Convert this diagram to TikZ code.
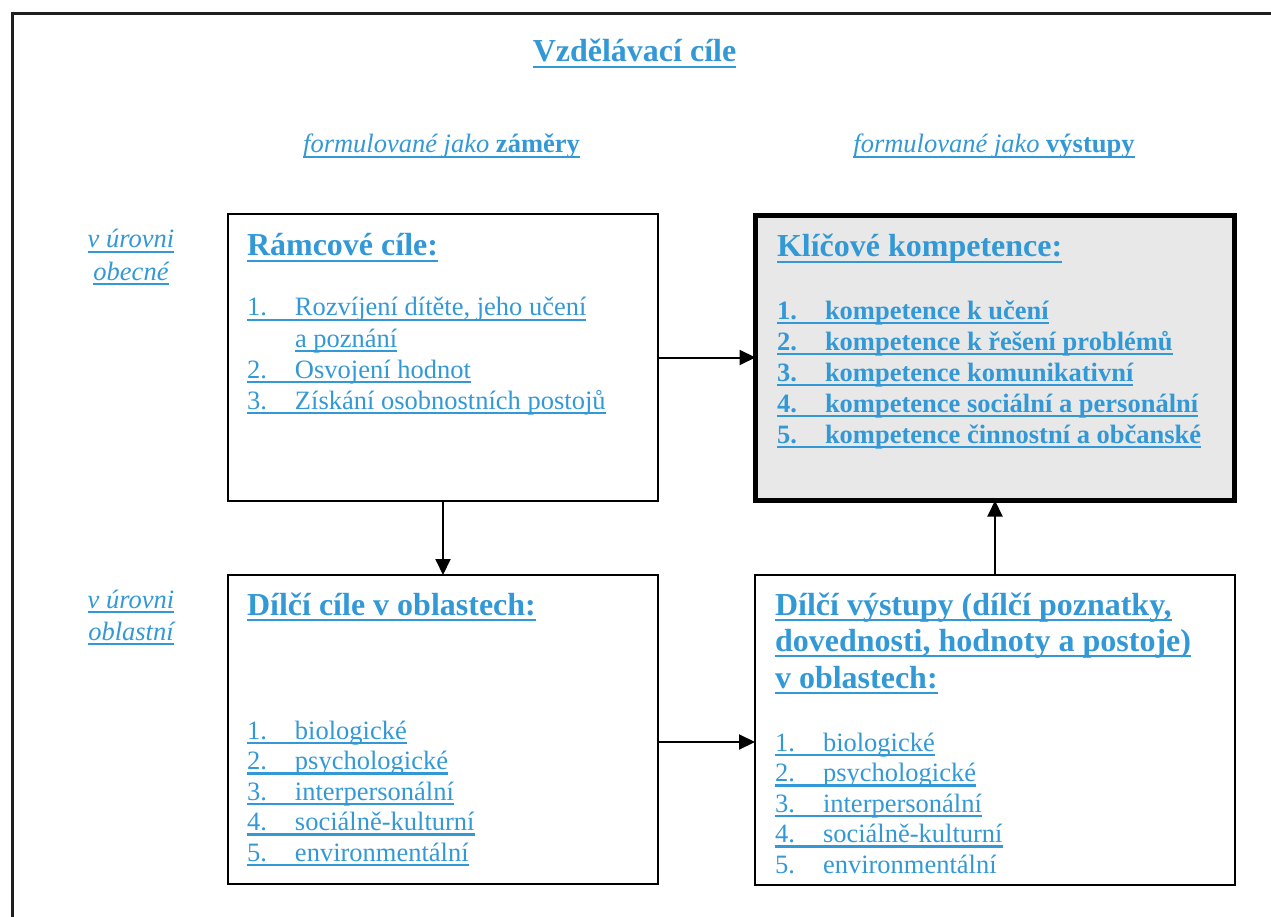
\documentclass[tikz,border=0pt]{standalone}
\usepackage{fontspec}
\setmainfont{Liberation Serif}
\usetikzlibrary{arrows.meta}
\definecolor{cblue}{RGB}{51,153,214}
\definecolor{boxgray}{RGB}{232,232,232}
\newcommand\myul[1]{\setbox0=\hbox{#1}\rlap{\rule[-0.19em]{\wd0}{0.08em}}\box0}
\newcommand\numit[2]{\myul{\makebox[48pt][l]{#1}#2}}
\newcommand\numnu[2]{\makebox[48pt][l]{#1}#2}
\newcommand\bodyf{\fontsize{26.5}{31}\selectfont}
\newcommand\headf{\fontsize{32}{37}\selectfont\bfseries}
\tikzset{
  txt/.style={inner sep=0pt, outer sep=0pt, anchor=base west, text=cblue, font=\bodyf},
  btxt/.style={txt, font=\bodyf\bfseries},
  hd/.style={txt, font=\headf},
  lbl/.style={txt, anchor=base, font=\bodyf\itshape},
  box/.style={draw=black, line width=2pt, inner sep=0pt, outer sep=0pt, anchor=north west},
  keybox/.style={box, line width=5pt, fill=boxgray},
  arr/.style={line width=2pt, -{Triangle[length=16pt,width=15pt]}}
}
\begin{document}
\begin{tikzpicture}[x=1pt,y=-1pt]
\useasboundingbox (0,0) rectangle (1271,917);
\fill[white] (0,0) rectangle (1271,917);
% outer frame
\draw[line width=2.6pt, black!88] (12.5,917) -- (12.5,13.5) -- (1271,13.5);

% title and column headers
\node[txt, anchor=base, font=\headf] (title) at (634.5,62) {\myul{Vzdělávací cíle}};
\node[txt, anchor=base] (colA) at (441.5,153) {\myul{\textit{formulované jako} \textbf{záměry}}};
\node[txt, anchor=base] (colB) at (994,153) {\myul{\textit{formulované jako} \textbf{výstupy}}};

% row labels
\node[lbl] (rowA1) at (131,248) {\myul{v úrovni}};
\node[lbl] (rowA2) at (131,280) {\myul{obecné}};
\node[lbl] (rowB1) at (131,608) {\myul{v úrovni}};
\node[lbl] (rowB2) at (131,640) {\myul{oblastní}};

% boxes
\node[box, minimum width=430, minimum height=287] (b1) at (228,214) {};
\node[keybox, minimum width=479, minimum height=285] (b2) at (755.5,215.5) {};
\node[box, minimum width=430, minimum height=309] (b3) at (228,575) {};
\node[box, minimum width=480, minimum height=310] (b4) at (755,575) {};

% box 1
\node[hd] (h1) at (247,256) {\myul{Rámcové cíle:}};
\node[txt] (i11) at (247,316) {\numit{1.}{Rozvíjení dítěte, jeho učení}};
\node[txt] (i11b) at (295,347) {\myul{a poznání}};
\node[txt] (i12) at (247,378) {\numit{2.}{Osvojení hodnot}};
\node[txt] (i13) at (247,409) {\numit{3.}{Získání osobnostních postojů}};

% box 2
\node[hd] (h2) at (777,257) {\myul{Klíčové kompetence:}};
\node[btxt] (i21) at (777,319) {\numit{1.}{kompetence k učení}};
\node[btxt] (i22) at (777,350) {\numit{2.}{kompetence k řešení problémů}};
\node[btxt] (i23) at (777,381) {\numit{3.}{kompetence komunikativní}};
\node[btxt] (i24) at (777,412) {\numit{4.}{kompetence sociální a personální}};
\node[btxt] (i25) at (777,443) {\numit{5.}{kompetence činnostní a občanské}};

% box 3
\node[hd] (h3) at (247,615) {\myul{Dílčí cíle v oblastech:}};
\node[txt] (i31) at (247,739) {\numit{1.}{biologické}};
\node[txt] (i32) at (247,769.5) {\numit{2.}{psychologické}};
\node[txt] (i33) at (247,800) {\numit{3.}{interpersonální}};
\node[txt] (i34) at (247,830.5) {\numit{4.}{sociálně-kulturní}};
\node[txt] (i35) at (247,861) {\numit{5.}{environmentální}};

% box 4
\node[hd] (h4a) at (775,615) {\myul{Dílčí výstupy (dílčí poznatky,}};
\node[hd] (h4b) at (775,651) {\myul{dovednosti, hodnoty a postoje)}};
\node[hd] (h4c) at (775,688) {\myul{v oblastech:}};
\node[txt] (i41) at (775,751) {\numit{1.}{biologické}};
\node[txt] (i42) at (775,781.5) {\numit{2.}{psychologické}};
\node[txt] (i43) at (775,812) {\numit{3.}{interpersonální}};
\node[txt] (i44) at (775,842.5) {\numit{4.}{sociálně-kulturní}};
\node[txt] (i45) at (775,873) {\numnu{5.}{environmentální}};

% connectors
\draw[arr] (b1.east) -- (b1.east -| b2.west);
\draw[arr] (b1.south) -- (b1.south |- b3.north);
\draw[arr] ([yshift=-12.5pt]b3.east) -- ([yshift=-12.5pt]b3.east -| b4.west);
\draw[arr] (b4.north) -- (b4.north |- b2.south);
\end{tikzpicture}
\end{document}
